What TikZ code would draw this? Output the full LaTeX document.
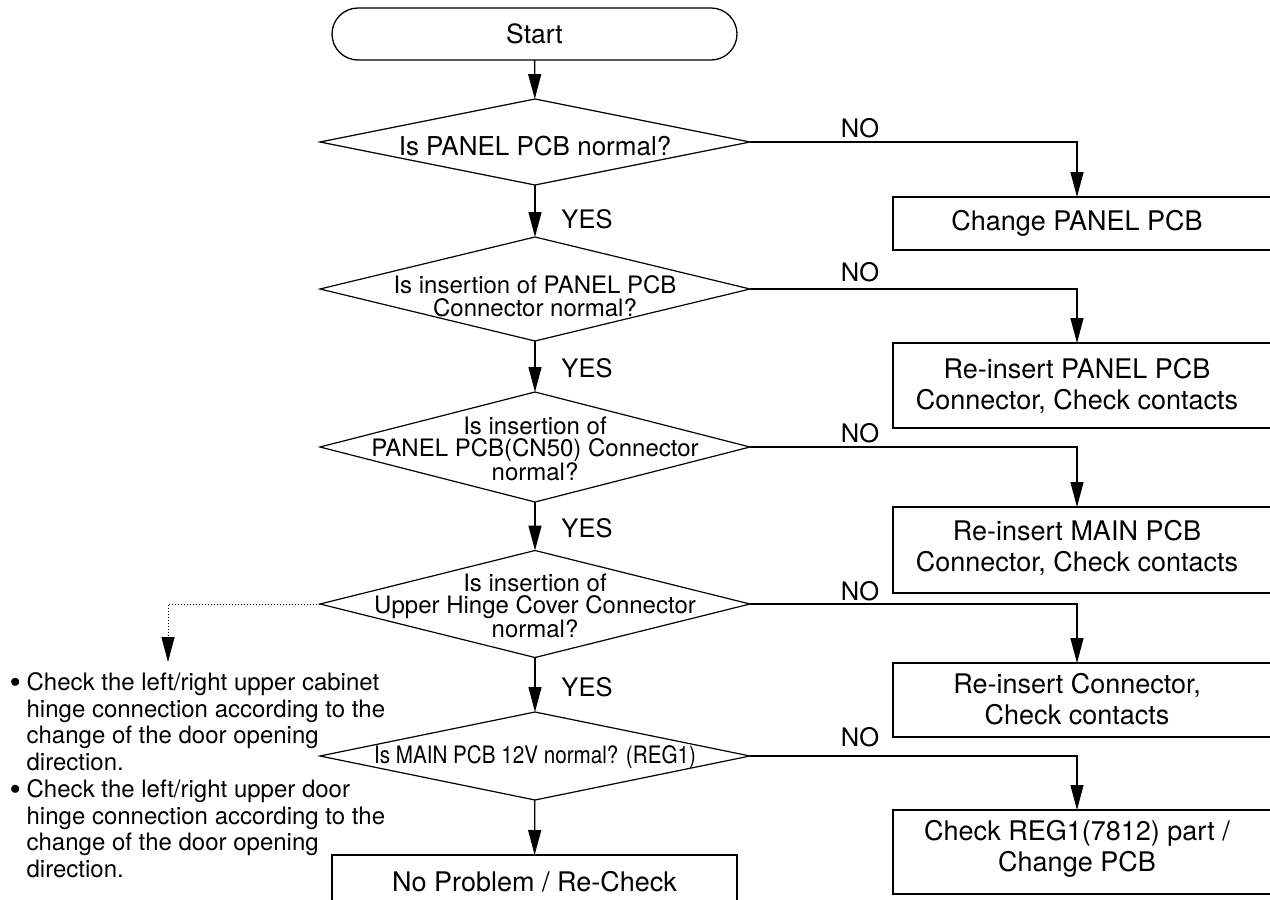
\documentclass[tikz,border=0pt]{standalone}
\usepackage{fontspec}
\setmainfont{TeX Gyre Heros}
\usetikzlibrary{shapes.geometric,arrows.meta}
\begin{document}
\begin{tikzpicture}[x=1pt,y=-1pt,line width=1.3pt,
  dia/.style={diamond,draw,inner sep=0pt,outer sep=0pt,minimum width=430pt,line width=1.2pt},
  dtext/.style={inner sep=0pt,align=center,font=\fontsize{24}{22.5}\selectfont},
  rbox/.style={draw,rectangle,inner sep=0pt,outer sep=0pt,minimum width=397pt},
  btext/.style={inner sep=0pt,align=center,font=\fontsize{27}{31.5}\selectfont},
  lbl/.style={inner sep=0pt,font=\fontsize{25.5}{25}\selectfont},
  arr/.style={-{Triangle[length=25pt,width=13pt]}},
  dotline/.style={line width=1pt,dash pattern=on 1pt off 2pt}]
\useasboundingbox (0,0) rectangle (1270,900);
\clip (0,0) rectangle (1270,900);

% start
\node[draw,rounded corners=26pt,minimum width=405pt,minimum height=52pt,inner sep=0pt,outer sep=0pt,
  font=\fontsize{26.5}{26}\selectfont] (start) at (534.5,34) {Start};

% diamonds
\node[dia,minimum height=86pt]  (d1) at (535,142) {};
\node[dia,minimum height=104pt] (d2) at (535,289) {};
\node[dia,minimum height=110pt] (d3) at (535,447) {};
\node[dia,minimum height=107pt] (d4) at (535,604) {};
\node[dia,minimum height=88pt]  (d5) at (535,756) {};

\node[dtext,font=\fontsize{26}{24}\selectfont] (t1) at (535,146) {Is PANEL PCB normal?};
\node[dtext] (t2) at (535,296) {Is insertion of PANEL PCB\\Connector normal?};
\node[dtext] (t3) at (535,449) {Is insertion of\\PANEL PCB(CN50) Connector\\normal?};
\node[dtext] (t4) at (535,606) {Is insertion of\\Upper Hinge Cover Connector\\normal?};
\node[dtext] (t5) at (535,757) {\scalebox{0.86}[1]{Is MAIN PCB 12V normal? (REG1)}};

% end box
\node[draw,rectangle,minimum width=405pt,minimum height=54pt,inner sep=0pt,outer sep=0pt,
  font=\fontsize{27}{31.5}\selectfont] (np) at (534.5,882) {No Problem / Re-Check};

% right boxes
\node[rbox,minimum height=53pt] (b1) at (1091.5,223.5) {};
\node[rbox,minimum height=85pt] (b2) at (1091.5,385.5) {};
\node[rbox,minimum height=86pt] (b3) at (1091.5,550) {};
\node[rbox,minimum height=74pt] (b4) at (1091.5,700) {};
\node[rbox,minimum height=84pt] (b5) at (1091.5,852) {};

\node[btext] (r1) at (1077,223) {Change PANEL PCB};
\node[btext] (r2) at (1077,386) {Re-insert PANEL PCB\\Connector, Check contacts};
\node[btext] (r3) at (1077,548) {Re-insert MAIN PCB\\Connector, Check contacts};
\node[btext] (r4) at (1077,699) {Re-insert Connector,\\Check contacts};
\node[btext] (r5) at (1077,849) {Check REG1(7812) part /\\Change PCB};

% main flow
\draw[arr] (start) -- (d1);
\draw[arr] (d1) -- (d2);
\draw[arr] (d2) -- (d3);
\draw[arr] (d3) -- (d4);
\draw[arr] (d4) -- (d5);
\draw[arr] (d5) -- (np);

% NO branches
\draw[arr] (d1.east) -| (b1.north -| r1);
\draw[arr] (d2.east) -| (b2.north -| r2);
\draw[arr] (d3.east) -| (b3.north -| r3);
\draw[arr] (d4.east) -| (b4.north -| r4);
\draw[arr] (d5.east) -| (b5.north -| r5);

% labels
\node[lbl] (y1) at (587,219) {YES};
\node[lbl] (y2) at (587,368) {YES};
\node[lbl] (y3) at (587,528) {YES};
\node[lbl] (y4) at (587,687) {YES};
\node[lbl] (n1) at (860,128) {NO};
\node[lbl] (n2) at (860,272) {NO};
\node[lbl] (n3) at (860,433) {NO};
\node[lbl] (n4) at (860,591) {NO};
\node[lbl] (n5) at (860,737) {NO};

% dotted connector and notes
\coordinate (dc) at (168,662);
\draw[dotline,arr] (d4.west) -| (dc);
\node[anchor=north west,inner sep=0pt,align=left,font=\fontsize{24}{26.7}\selectfont] (notes) at (9,672)
 {\makebox[17pt][l]{\raisebox{-3pt}{\scalebox{1.35}{•}}}Check the left/right upper cabinet\\
  \hspace*{17pt}hinge connection according to the\\
  \hspace*{17pt}change of the door opening\\
  \hspace*{17pt}direction.\\
  \makebox[17pt][l]{\raisebox{-3pt}{\scalebox{1.35}{•}}}Check the left/right upper door\\
  \hspace*{17pt}hinge connection according to the\\
  \hspace*{17pt}change of the door opening\\
  \hspace*{17pt}direction.};
\end{tikzpicture}
\end{document}
